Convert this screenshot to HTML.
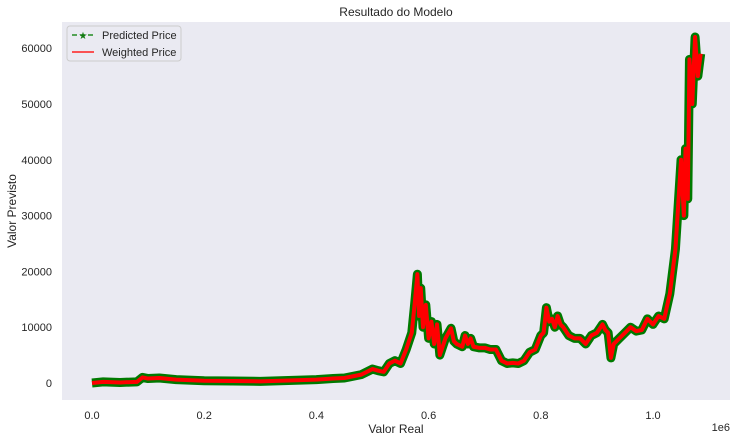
<!DOCTYPE html>
<html><head><meta charset="utf-8"><style>
body{margin:0;background:#fff;font-family:"Liberation Sans",sans-serif}
svg text{font-family:"Liberation Sans",sans-serif;fill:#262626}
</style></head><body>
<svg id="c" width="738" height="442">
<rect x="62" y="22" width="668" height="378" fill="#eaeaf2"/>
<text x="396" y="16" font-size="12" text-anchor="middle">Resultado do Modelo</text>
<text x="396" y="433" font-size="12" text-anchor="middle">Valor Real</text>
<text x="16" y="211" font-size="12" text-anchor="middle" transform="rotate(-90 16 211)">Valor Previsto</text>
<text x="730" y="431" font-size="11" text-anchor="end">1e6</text>
<g id="ticks"></g>
<g id="series"></g>
<g>
<rect x="67" y="26" width="114" height="35" rx="3" fill="#eaeaf2" stroke="#ccc"/>
<line x1="72" y1="35" x2="94" y2="35" stroke="#228b22" stroke-width="1.5" stroke-dasharray="5,3"/>
<text x="83" y="39" font-size="10" text-anchor="middle" style="fill:#117a11">★</text>
<text x="102" y="39" font-size="11">Predicted Price</text>
<line x1="72" y1="52" x2="94" y2="52" stroke="#ff2020" stroke-width="1.5"/>
<text x="102" y="56" font-size="11">Weighted Price</text>
</g>
</svg>
<script>
const xVals=[0,0.02,0.05,0.08,0.09,0.1,0.12,0.15,0.2,0.25,0.3,0.35,0.4,0.43,0.45,0.48,0.5,0.51,0.52,0.53,0.54,0.55,0.56,0.57,0.575,0.58,0.583,0.586,0.59,0.595,0.6,0.605,0.61,0.615,0.62,0.625,0.63,0.64,0.645,0.65,0.66,0.665,0.67,0.675,0.68,0.69,0.7,0.71,0.72,0.73,0.74,0.75,0.76,0.77,0.78,0.79,0.8,0.805,0.81,0.815,0.82,0.825,0.83,0.835,0.84,0.85,0.86,0.87,0.88,0.89,0.9,0.91,0.915,0.92,0.925,0.93,0.94,0.95,0.96,0.97,0.98,0.99,1.0,1.01,1.02,1.03,1.04,1.05,1.055,1.058,1.062,1.065,1.07,1.075,1.08,1.085];
const yVals=[0,200,100,200,1000,800,900,600,400,350,300,450,600,800,900,1500,2500,2200,2000,3500,4000,3500,6000,9000,14000,19500,12000,17000,10000,14000,8000,11000,7000,10500,5000,6500,8000,9800,7500,7000,6500,8500,7000,8000,6500,6300,6300,6000,6000,4000,3500,3600,3500,4000,5500,6000,8500,9000,13500,11000,11500,10000,12000,10500,10000,8500,8000,8000,7000,8500,9000,10500,9500,9000,4500,7000,8000,9000,10000,9300,9500,11500,10500,12000,11500,16000,24000,40000,30000,42000,33000,58000,50000,62000,55000,59000];
const xTicks=[0,0.2,0.4,0.6,0.8,1.0];
const yTicks=[0,10000,20000,30000,40000,50000,60000];
const sx=v=>92+v*561, sy=v=>383-v*0.00558;
const NS='http://www.w3.org/2000/svg';
const tg=document.getElementById('ticks');
xTicks.forEach(t=>{const e=document.createElementNS(NS,'text');
e.setAttribute('x',sx(t));e.setAttribute('y',419);e.setAttribute('font-size','11');e.setAttribute('text-anchor','middle');


e.textContent=t.toFixed(1);tg.appendChild(e);});
yTicks.forEach(t=>{const e=document.createElementNS(NS,'text');
e.setAttribute('x',52);e.setAttribute('y',sy(t)+4);e.setAttribute('font-size','11');e.setAttribute('text-anchor','end');


e.textContent=t;tg.appendChild(e);});
const pts=xVals.map((x,i)=>sx(x)+','+sy(yVals[i])).join(' ');
const sg=document.getElementById('series');
const g=document.createElementNS(NS,'polyline');
g.setAttribute('points',pts);g.setAttribute('fill','none');g.setAttribute('stroke','#007a00');g.setAttribute('stroke-width','9');g.setAttribute('stroke-linejoin','round');


sg.appendChild(g);
const r=document.createElementNS(NS,'polyline');
r.setAttribute('points',pts);r.setAttribute('fill','none');r.setAttribute('stroke','#ff0000');r.setAttribute('stroke-width','4');r.setAttribute('stroke-linejoin','round');


sg.appendChild(r);
</script>
</body></html>
